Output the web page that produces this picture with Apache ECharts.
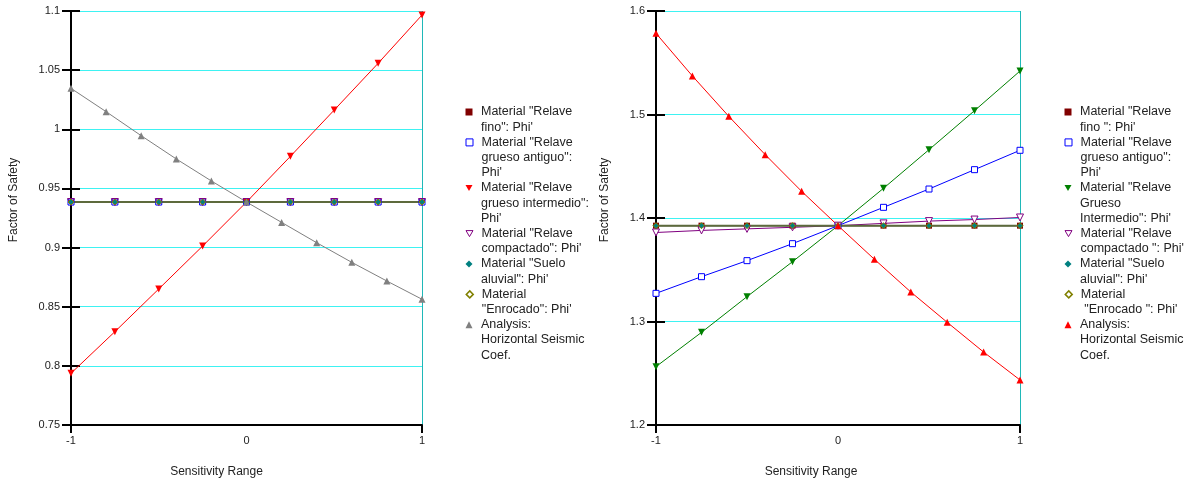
<!DOCTYPE html>
<html>
<head>
<meta charset="utf-8">
<script src="https://cdn.jsdelivr.net/npm/echarts@6/dist/echarts.min.js"></script>
<style>
  html, body { margin: 0; padding: 0; background: #fff; }
  #chart { width: 1185px; height: 480px; }
</style>
</head>
<body>
<div id="chart"></div>
<script>
// x positions of the sensitivity samples
const xQuarter = [-1, -0.75, -0.5, -0.25, 0, 0.25, 0.5, 0.75, 1]
const xFifth = [-1, -0.8, -0.6, -0.4, -0.2, 0, 0.2, 0.4, 0.6, 0.8, 1]

// left chart
const leftFino = [0.9385, 0.9385, 0.9385, 0.9385, 0.9385, 0.9385, 0.9385, 0.9385, 0.9385]
const leftAntiguo = [0.9385, 0.9385, 0.9385, 0.9385, 0.9385, 0.9385, 0.9385, 0.9385, 0.9385]
const leftIntermedio = [0.7937, 0.8289, 0.865, 0.9013, 0.9385, 0.9771, 1.0163, 1.0558, 1.0966]
const leftCompactado = [0.9385, 0.9385, 0.9385, 0.9385, 0.9385, 0.9385, 0.9385, 0.9385, 0.9385]
const leftSuelo = [0.9385, 0.9385, 0.9385, 0.9385, 0.9385, 0.9385, 0.9385, 0.9385, 0.9385]
const leftEnrocado = [0.9385, 0.9385, 0.9385, 0.9385, 0.9385, 0.9385, 0.9385, 0.9385, 0.9385]
const leftAnalysis = [1.0346, 1.0149, 0.9946, 0.9749, 0.9563, 0.9385, 0.9213, 0.9041, 0.8875, 0.8717, 0.8563]

// right chart
const rightFino = [1.3926, 1.3926, 1.3926, 1.3926, 1.3926, 1.3926, 1.3926, 1.3926, 1.3926]
const rightAntiguo = [1.3272, 1.3433, 1.3588, 1.3752, 1.3926, 1.4103, 1.428, 1.4467, 1.4654]
const rightIntermedio = [1.2564, 1.2895, 1.324, 1.3578, 1.3926, 1.4287, 1.466, 1.5037, 1.542]
const rightCompactado = [1.386, 1.388, 1.3895, 1.391, 1.3926, 1.3948, 1.397, 1.3985, 1.4005]
const rightSuelo = [1.3926, 1.3926, 1.3926, 1.3926, 1.3926, 1.3926, 1.3926, 1.3926, 1.3926]
const rightEnrocado = [1.3926, 1.3926, 1.3926, 1.3926, 1.3926, 1.3926, 1.3926, 1.3926, 1.3926]
const rightAnalysis = [1.5784, 1.5372, 1.4982, 1.4612, 1.4258, 1.3926, 1.3601, 1.3285, 1.2992, 1.2705, 1.2435]

const leftLabels = [
  'Material "Relave\nfino": Phi\'',
  'Material "Relave\ngrueso antiguo":\nPhi\'',
  'Material "Relave\ngrueso intermedio":\nPhi\'',
  'Material "Relave\ncompactado": Phi\'',
  'Material "Suelo\naluvial": Phi\'',
  'Material\n"Enrocado": Phi\'',
  'Analysis:\nHorizontal Seismic\nCoef.'
]
const rightLabels = [
  'Material "Relave\nfino ": Phi\'',
  'Material "Relave\ngrueso antiguo":\nPhi\'',
  'Material "Relave\nGrueso\nIntermedio": Phi\'',
  'Material "Relave\ncompactado ": Phi\'',
  'Material "Suelo\naluvial": Phi\'',
  'Material\n "Enrocado ": Phi\'',
  'Analysis:\nHorizontal Seismic\nCoef.'
]

const FONT = 'Liberation Sans'
const CYAN = '#3ef2f2'
const DOWN = 'path://M0,0L7,0L3.5,6Z'

const chart = echarts.init(document.getElementById('chart'))

function pairs(xs, ys) {
  return ys.map((y, i) => [xs[i], y])
}

// open markers get a thin coloured border; fill is white unless given
function line(name, g, xs, ys, color, symbol, size, extra, openFill) {
  return Object.assign({
    name: name,
    type: 'line',
    xAxisIndex: g,
    yAxisIndex: g * 2,
    data: pairs(xs, ys),
    symbol: symbol,
    symbolSize: size,
    color: color,
    lineStyle: { color: color, width: 1 },
    itemStyle: openFill ? { color: openFill, borderColor: color, borderWidth: 1 } : { color: color, borderWidth: 0 },
    emphasis: { disabled: true }
  }, extra || {})
}

function xAxis(g, padRight) {
  return {
    type: 'value', gridIndex: g, min: -1, max: 1, interval: 1,
    axisLine: { lineStyle: { color: '#000', width: 2 } },
    axisTick: { show: true, customValues: [-1, 1], length: 8, lineStyle: { color: '#000', width: 2 } },
    axisLabel: { margin: 10, color: '#222', fontSize: 11, fontFamily: FONT },
    splitLine: { show: true, lineStyle: { color: [CYAN, '#1fb8b8', CYAN], width: 1 } },
    name: 'Sensitivity Range', nameLocation: 'middle', nameGap: 41,
    nameTextStyle: { color: '#222', fontSize: 12, fontFamily: FONT, padding: [0, padRight, 0, 0] }
  }
}

function yAxes(g, min, max, interval, nameGap) {
  return [{
    type: 'value', gridIndex: g, position: 'left', min: min, max: max, interval: interval,
    axisLine: { show: true, onZero: false, lineStyle: { color: '#000', width: 2 } },
    axisTick: { show: true, length: 9, lineStyle: { color: '#000', width: 2 } },
    axisLabel: { margin: 11, color: '#222', fontSize: 11, fontFamily: FONT },
    splitLine: { show: true, lineStyle: { color: CYAN, width: 1 } },
    name: 'Factor of Safety', nameLocation: 'middle', nameGap: nameGap,
    nameTextStyle: { color: '#222', fontSize: 12, fontFamily: FONT, padding: [0, 0, 0, 36] }
  }, {
    type: 'value', gridIndex: g, position: 'left', min: min, max: max, interval: interval,
    axisLine: { show: false, onZero: false },
    axisTick: { show: true, inside: true, length: 9, lineStyle: { color: '#000', width: 2 } },
    axisLabel: { show: false },
    splitLine: { show: false }
  }]
}

// legend icons, in legend order
const leftIcons = [
  { icon: 'rect', itemStyle: { color: '#800000' } },
  { icon: 'rect', itemStyle: { color: '#fff', borderColor: '#0000ff', borderWidth: 1 } },
  { icon: DOWN, itemStyle: { color: '#ff0000' } },
  { icon: DOWN, itemStyle: { color: '#fff', borderColor: '#800080', borderWidth: 1 } },
  { icon: 'diamond', itemStyle: { color: '#008080' } },
  { icon: 'diamond', itemStyle: { color: '#fff', borderColor: '#808000', borderWidth: 1.5 } },
  { icon: 'triangle', itemStyle: { color: '#808080' } }
]
const rightIcons = leftIcons.map((d, i) => {
  if (i === 2) return { icon: DOWN, itemStyle: { color: '#008000' } }
  if (i === 6) return { icon: 'triangle', itemStyle: { color: '#ff0000' } }
  return d
})

// one legend block per item; blank lines in front keep the marker on the first text line
function legends(prefix, labels, icons, left) {
  const LH = 15.2
  const out = []
  let row = 0
  labels.forEach((label, i) => {
    const n = label.split('\n').length
    const center = 112 + LH * row
    const text = '\n'.repeat(n - 1) + label
    out.push({
      left: left,
      top: center - LH * (2 * n - 1) / 2,
      orient: 'vertical',
      padding: 0,
      itemWidth: 7,
      itemHeight: 7,
      selectedMode: false,
      data: [Object.assign({ name: prefix + i }, icons[i])],
      formatter: () => text,
      textStyle: {
        fontFamily: FONT, fontSize: 12.5, color: '#222', lineHeight: LH,
        padding: [0, 0, 0, 3.5]
      }
    })
    row += n
  })
  return out
}

const CLEAR = 'rgba(255,255,255,0)'

const option = {
  animation: false,
  backgroundColor: '#fff',
  grid: [
    { left: 71, top: 11, width: 351, bottom: 55, outerBoundsMode: 'none', containLabel: false },
    { left: 656, top: 11, width: 364, bottom: 55, outerBoundsMode: 'none', containLabel: false }
  ],
  legend: legends('L', leftLabels, leftIcons, 465.5).concat(legends('R', rightLabels, rightIcons, 1064.5)),
  xAxis: [xAxis(0, 60), xAxis(1, 54)],
  yAxis: yAxes(0, 0.75, 1.1, 0.05, 51).concat(yAxes(1, 1.2, 1.6, 0.1, 45)),
  series: [
    line('L0', 0, xQuarter, leftFino, '#800000', 'rect', 6),
    line('L1', 0, xQuarter, leftAntiguo, '#0000ff', 'rect', 6, null, '#fff'),
    line('L2', 0, xQuarter, leftIntermedio, '#ff0000', 'triangle', 7, { symbolRotate: 180 }),
    line('L3', 0, xQuarter, leftCompactado, '#800080', 'triangle', 7, { symbolRotate: 180 }, CLEAR),
    line('L4', 0, xQuarter, leftSuelo, '#008080', 'diamond', 6),
    line('L5', 0, xQuarter, leftEnrocado, '#808000', 'diamond', 6, { lineStyle: { color: '#5d6a3c', width: 2 } }, CLEAR),
    line('L6', 0, xFifth, leftAnalysis, '#808080', 'triangle', 7),

    line('R0', 1, xQuarter, rightFino, '#800000', 'rect', 6),
    line('R1', 1, xQuarter, rightAntiguo, '#0000ff', 'rect', 6, null, '#fff'),
    line('R2', 1, xQuarter, rightIntermedio, '#008000', 'triangle', 7, { symbolRotate: 180 }),
    line('R3', 1, xQuarter, rightCompactado, '#800080', 'triangle', 7, { symbolRotate: 180 }, '#fff'),
    line('R4', 1, xQuarter, rightSuelo, '#008080', 'diamond', 6),
    line('R5', 1, xQuarter, rightEnrocado, '#808000', 'diamond', 6, { lineStyle: { color: '#5d6a3c', width: 2 } }, CLEAR),
    line('R6', 1, xFifth, rightAnalysis, '#ff0000', 'triangle', 7)
  ]
}

chart.setOption(option)
</script>
</body>
</html>
